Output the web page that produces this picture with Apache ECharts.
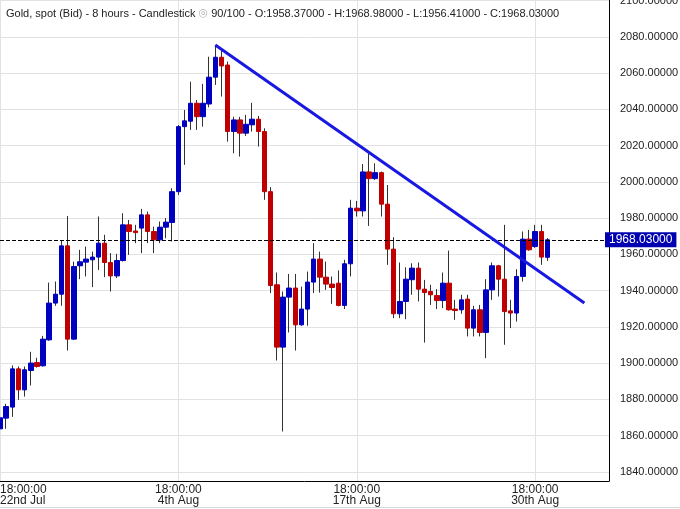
<!DOCTYPE html>
<html><head><meta charset="utf-8">
<script src="https://cdn.jsdelivr.net/npm/echarts@6/dist/echarts.min.js"></script>
<style>html,body{margin:0;padding:0;background:#fff}#c{width:680px;height:509px}</style>
</head><body><div id="c"></div>
<script>
// ---- data (8-hour candles, index 0 = 22nd Jul 18:00) ----
const open = [1863.7,1869.6,1875.7,1896.8,1885.2,1895.9,1900.3,1898.5,1912.8,1933.1,
1938.0,1964.7,1913.2,1953.7,1955.7,1957.0,1958.5,1966.2,1955.5,1948.1,
1956.6,1976.3,1972.9,1974.5,1981.8,1972.6,1968.0,1975.0,1977.6,1994.6,
2030.5,2033.5,2043.4,2036.0,2043.0,2057.8,2068.8,2064.5,2027.8,2034.2,
2026.9,2031.5,2034.6,2027.8,1994.6,1943.2,1908.8,1936.4,1941.4,1921.1,
1929.8,1944.7,1957.4,1947.4,1943.6,1944.1,1931.8,1954.8,1985.5,1984.0,
2005.5,2001.8,2005.1,1987.7,1962.9,1927.2,1934.0,1946.0,1952.4,1940.8,
1939.5,1937.3,1934.5,1944.1,1929.8,1929.4,1935.3,1919.3,1929.4,1916.9,
1940.4,1953.7,1946.3,1928.8,1927.6,1947.8,1968.4,1964.3,1972.6,1958.37];
const close = [1869.8,1876.0,1896.8,1885.2,1896.3,1900.0,1898.1,1913.2,1933.1,1938.0,
1964.7,1913.2,1953.3,1955.9,1957.4,1958.5,1966.2,1955.5,1948.1,1956.6,
1976.3,1972.6,1972.0,1981.8,1972.6,1968.0,1975.0,1977.8,1994.6,2030.5,
2033.7,2043.4,2036.0,2043.4,2057.8,2068.8,2064.0,2027.8,2034.2,2026.9,
2031.8,2034.6,2027.8,1994.6,1942.8,1908.8,1936.4,1941.4,1921.1,1929.8,
1944.7,1957.4,1947.4,1943.6,1941.7,1931.8,1954.8,1985.5,1984.0,2005.5,
2001.8,2005.1,1987.7,1962.9,1927.2,1934.0,1946.3,1952.4,1940.8,1938.9,
1937.7,1934.5,1944.1,1929.4,1929.0,1934.9,1919.3,1929.4,1916.9,1940.4,
1953.7,1946.3,1928.4,1927.6,1947.8,1968.4,1962.5,1972.6,1958.5,1968.03];
const low = [1861.5,1863.7,1870.3,1879.7,1881.5,1887.6,1897.5,1898.0,1912.3,1931.6,
1931.6,1906.9,1912.8,1946.3,1947.8,1941.9,1951.4,1947.4,1939.5,1946.9,
1956.0,1959.7,1966.2,1960.7,1966.2,1960.7,1966.2,1968.9,1967.1,1992.8,
2009.4,2028.7,2028.7,2030.5,2041.2,2053.5,2047.1,2022.2,2015.8,2014.0,
2025.4,2027.8,2019.5,1990.1,1938.6,1901.4,1862.2,1916.9,1906.9,1920.6,
1920.6,1938.6,1938.9,1940.4,1932.7,1931.3,1929.8,1947.8,1980.9,1980.9,
1975.7,2001.1,1980.9,1954.2,1924.8,1924.8,1924.2,1937.7,1934.0,1911.3,
1932.1,1929.8,1930.3,1929.0,1923.9,1927.2,1914.7,1914.7,1914.7,1902.7,
1934.9,1936.7,1910.1,1919.3,1922.9,1945.0,1962.0,1963.6,1954.2,1956.41];
const high = [1872.0,1877.5,1898.7,1898.1,1898.1,1906.2,1902.9,1915.0,1944.4,1945.0,
1967.6,1981.2,1956.0,1962.5,1964.3,1961.5,1980.9,1970.8,1960.7,1960.3,
1982.7,1979.0,1976.3,1985.1,1983.6,1975.3,1978.1,1980.0,1996.5,2031.4,
2039.7,2055.3,2045.2,2054.1,2069.1,2075.6,2072.8,2066.4,2036.0,2035.9,
2037.0,2043.6,2036.4,2029.6,1997.1,1950.0,1939.5,1949.2,1949.2,1942.2,
1950.5,1966.2,1961.5,1956.0,1947.8,1951.1,1957.0,1990.1,1989.5,2009.9,
2015.4,2010.3,2005.7,1998.3,1969.5,1955.5,1952.9,1955.1,1955.5,1945.9,
1943.2,1940.8,1950.0,1962.1,1934.9,1937.7,1937.7,1931.6,1932.1,1946.3,
1955.5,1954.2,1976.3,1934.9,1951.8,1972.6,1973.5,1976.3,1976.3,1968.98];

const slotCount = 100;                 // visible slots (90 candles + empty space)
const tickIndex = [0, 29, 58, 87];
const tickTimes = ['18:00:00', '18:00:00', '18:00:00', '18:00:00'];
const tickDates = ['22nd Jul', '4th Aug', '17th Aug', '30th Aug'];
const yMin = 1834.9, yMax = 2100.4, yStep = 20;
const trendX = [35, 95];
const trendY = [2075.6, 1933.1];
const trendName = 'L0';
const titleMain = 'Gold, spot (Bid) - 8 hours - Candlestick';
const shownCount = '90/100';

// ---- build ----
const FONT = '"Liberation Sans", Arial, sans-serif';
const UP = '#0000c0', DOWN = '#c00000', WICK = '#333333';
const categories = Array.from({length: slotCount}, (_, i) => 'slot' + i);
const n = open.length;
const wickData = open.map((o, i) => [o, close[i], low[i], high[i]]);
const bodyData = open.map((o, i) => [o, close[i], Math.min(o, close[i]), Math.max(o, close[i])]);
const last = n - 1;
const lastClose = close[last];
const f5 = v => v.toFixed(5);
const isTick = i => tickIndex.indexOf(i) >= 0;

const chart = echarts.init(document.getElementById('c'), null, {renderer: 'canvas'});
chart.setOption({
  animation: false,
  backgroundColor: '#fff',
  textStyle: {fontFamily: FONT},
  title: {
    left: 1, top: 3,
    text: '{t|' + titleMain + '} {e|◎} {t|' + shownCount + ' - O:' + f5(open[last]) + ' - H:' + f5(high[last]) +
          ' - L:' + f5(low[last]) + ' - C:' + f5(close[last]) + '}',
    textStyle: {
      fontSize: 11, fontWeight: 'normal', color: '#222', fontFamily: FONT,
      rich: {
        t: {fontSize: 11, color: '#222', fontFamily: FONT},
        e: {fontSize: 11, color: '#b0b0b0', fontFamily: 'DejaVu Sans'}
      }
    }
  },
  graphic: [{
    type: 'line', silent: true, z: 0,
    shape: {x1: 0, y1: 507.5, x2: 680, y2: 507.5},
    style: {stroke: '#d8d8d8', lineWidth: 1}
  }],
  grid: {left: 0, right: 71, top: 0, bottom: 28, containLabel: false, outerBoundsMode: 'none'},
  xAxis: {
    type: 'category',
    data: categories,
    boundaryGap: false,
    axisLine: {show: true, lineStyle: {color: '#000', width: 1}},
    axisTick: {show: false},
    splitLine: {show: true, interval: (i) => isTick(i), lineStyle: {color: '#e2e2e2', width: 1}},
    axisLabel: {
      show: true,
      interval: (i) => isTick(i),
      margin: 3,
      fontSize: 12, lineHeight: 11, color: '#222', fontFamily: FONT,
      formatter: (v, i) => {
        const k = tickIndex.indexOf(i);
        return k >= 0 ? tickTimes[k] + '\n' + tickDates[k] : '';
      },
      alignMinLabel: 'left',
      hideOverlap: false
    }
  },
  yAxis: {
    type: 'value',
    position: 'right',
    min: yMin, max: yMax,
    minInterval: yStep, maxInterval: yStep,
    scale: true,
    axisLine: {show: true, lineStyle: {color: '#000', width: 1}},
    axisTick: {show: false},
    splitLine: {show: true, lineStyle: {color: '#e2e2e2', width: 1}},
    axisLabel: {
      margin: 11, fontSize: 11, color: '#222', fontFamily: FONT,
      showMaxLabel: true, showMinLabel: true,
      formatter: v => (Math.abs(v / yStep - Math.round(v / yStep)) < 1e-6 ? f5(v) : '')
    }
  },
  series: [
    {
      type: 'candlestick', name: 'wick', data: wickData,
      barWidth: 0.01, silent: true,
      emphasis: {disabled: true},
      itemStyle: {color: WICK, color0: WICK, borderColor: WICK, borderColor0: WICK, borderColorDoji: WICK, borderWidth: 1},
      z: 2
    },
    {
      type: 'candlestick', name: 'body', data: bodyData,
      barWidth: 5, silent: true,
      emphasis: {disabled: true},
      itemStyle: {color: UP, color0: DOWN, borderColor: UP, borderColor0: DOWN, borderWidth: 1},
      z: 3,
      markLine: {
        silent: true, animation: false,
        symbol: ['none', 'none'],
        lineStyle: {color: '#000', type: [4, 2], width: 1},
        label: {
          show: true, position: 'end', distance: -4,
          formatter: p => f5(p.value),
          backgroundColor: '#0000b0', color: '#fff',
          padding: [2, 4, 1, 4], fontSize: 12, fontFamily: FONT
        },
        emphasis: {disabled: true},
        data: [{yAxis: lastClose}]
      }
    },
    {
      type: 'line', name: trendName,
      data: trendX.map((x, i) => i === 0 ? {
        value: [x, trendY[i]],
        label: {show: true, position: 'left', distance: 4, offset: [0, 10], formatter: trendName,
                color: '#4a63d8', fontSize: 12, fontFamily: FONT}
      } : [x, trendY[i]]),
      symbol: 'emptyCircle', symbolSize: 10,
      itemStyle: {color: '#e02020', borderColor: '#e02020', borderWidth: 1},
      lineStyle: {color: '#1818e0', width: 3},
      silent: true, z: 5,
      emphasis: {disabled: true}
    }
  ]
});
</script>
</body></html>
